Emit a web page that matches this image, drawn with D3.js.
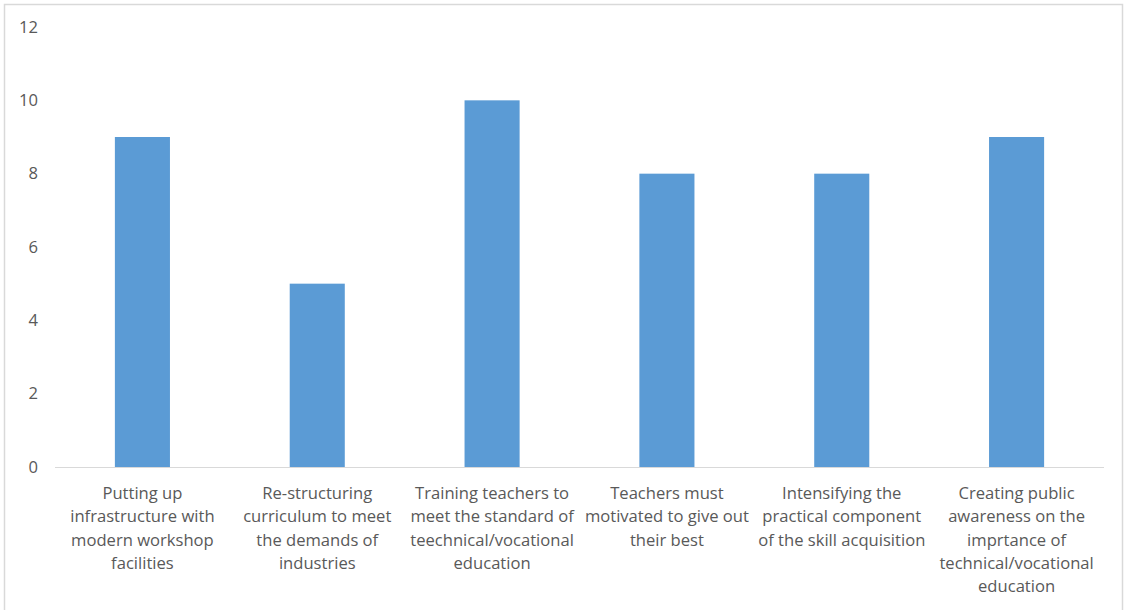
<!DOCTYPE html>
<html>
<head>
<meta charset="utf-8">
<script src="https://cdn.jsdelivr.net/npm/d3@7"></script>
<style>
  html, body { margin: 0; padding: 0; background: #fff; }
  svg { display: block; }
</style>
</head>
<body>
<svg id="chart" width="1128" height="610"></svg>
<script>
// Category labels, broken into the lines they are drawn on
const categories = [
  ["Putting up", "infrastructure with", "modern workshop", "facilities"],
  ["Re-structuring", "curriculum to meet", "the demands of", "industries"],
  ["Training teachers to", "meet the standard of", "teechnical/vocational", "education"],
  ["Teachers must", "motivated to give out", "their best"],
  ["Intensifying the", "practical component", "of the skill acquisition"],
  ["Creating public", "awareness on the", "imprtance of", "technical/vocational", "education"]
];
const values = [9, 5, 10, 8, 8, 9];
const yTicks = [0, 2, 4, 6, 8, 10, 12];

const svg = d3.select("#chart");
const W = 1128, H = 610;
const margin = { left: 55, right: 24, top: 27, bottom: 143 };
const fontFamily = "'Open Sans', 'Liberation Sans', sans-serif";
const fontSize = 16.6;

// chart area frame
svg.append("rect")
  .attr("x", 4.5).attr("y", 4.5)
  .attr("width", 1118).attr("height", 620)
  .attr("fill", "#fff").attr("stroke", "#d9d9d9").attr("stroke-width", 1.5);

const x = d3.scaleBand()
  .domain(d3.range(categories.length))
  .range([margin.left, W - margin.right])
  .paddingInner(0.685).paddingOuter(0.3425);

const y = d3.scaleLinear()
  .domain([0, 12])
  .range([H - margin.bottom, margin.top]);

// bars
svg.append("g").selectAll("rect")
  .data(values)
  .join("rect")
  .attr("x", (d, i) => x(i))
  .attr("y", d => y(d))
  .attr("width", x.bandwidth())
  .attr("height", d => y(0) - y(d))
  .attr("fill", "#5b9bd5");

// baseline
svg.append("line")
  .attr("x1", margin.left).attr("x2", W - margin.right)
  .attr("y1", y(0) + 0.5).attr("y2", y(0) + 0.5)
  .attr("stroke", "#d9d9d9").attr("stroke-width", 1);

// y axis labels
const yAxis = d3.axisLeft(y).tickValues(yTicks).tickSize(0).tickPadding(17);
const yg = svg.append("g")
  .attr("transform", `translate(${margin.left},0)`)
  .call(yAxis);
yg.select(".domain").remove();
yg.selectAll("text")
  .attr("font-family", fontFamily)
  .attr("font-size", fontSize)
  .attr("fill", "#595959");

// category labels
const lineH = 23.3;
const lab = svg.append("g").selectAll("text")
  .data(categories)
  .join("text")
  .attr("text-anchor", "middle")
  .attr("font-family", fontFamily)
  .attr("font-size", fontSize)
  .attr("fill", "#595959")
  .attr("x", (d, i) => x(i) + x.bandwidth() / 2)
  .attr("y", y(0) + 32);
lab.each(function(lines, i) {
  d3.select(this).selectAll("tspan")
    .data(lines)
    .join("tspan")
    .attr("x", x(i) + x.bandwidth() / 2)
    .attr("dy", (d, j) => j === 0 ? 0 : lineH)
    .text(d => d);
});
</script>
</body>
</html>
